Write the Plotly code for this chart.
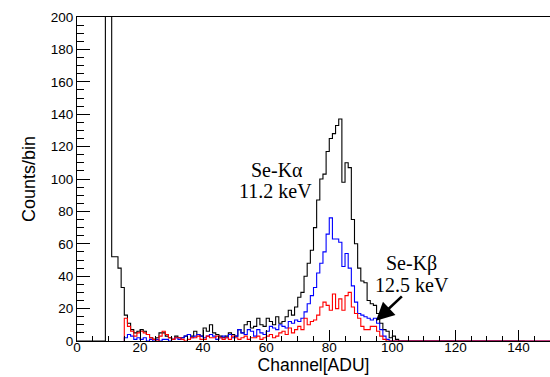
import plotly.graph_objects as go

# ---- data (counts per 1-ADU bin) ----
channels_black = list(range(0, 150))
black = [0, 0, 0, 0, 0, 0, 0, 0, 0, 480, 310,
         52, 52, 45, 33, 16, 11, 7, 5, 6, 7,
         6, 4, 2, 1, 2, 5, 5, 3, 2, 1,
         3, 2, 2, 3, 4, 3, 6, 4, 3, 8,
         6, 10, 5, 4, 3, 2, 3, 5, 4, 3,
         7, 5, 10, 12, 8, 9, 14, 10, 9, 14,
         12, 10, 15, 11, 12, 15, 19, 16, 21, 27,
         30, 40, 48, 56, 70, 87, 100, 103, 117, 125,
         128, 133, 137, 98, 110, 107, 75, 60, 45, 37,
         36, 25, 23, 22, 17, 11, 7, 6, 2, 3,
         1] + [0] * 39

channels_rb = list(range(15, 150))
blue = [2, 4, 3, 1, 2, 1,
        2, 0, 1, 0, 1, 0, 1, 1, 0, 1,
        2, 1, 2, 3, 4, 2, 3, 4, 3, 2,
        3, 4, 3, 1, 2, 3, 2, 4, 2, 3,
        7, 5, 4, 7, 6, 3, 7, 5, 4, 6,
        9, 8, 7, 10, 9, 8, 12, 11, 13, 12,
        14, 18, 23, 28, 33, 42, 48, 55, 66, 76,
        63, 63, 61, 46, 54, 45, 34, 24, 17, 16,
        15, 14, 13, 14, 11, 7, 3, 1, 0, 0] + [0] * 49
red = [14, 9, 6, 3, 5, 6,
       5, 4, 2, 1, 0, 3, 6, 4, 2, 1,
       2, 2, 1, 0, 1, 2, 2, 3, 1, 1,
       3, 2, 2, 3, 2, 1, 2, 1, 3, 2,
       1, 2, 3, 1, 2, 2, 3, 1, 2, 3,
       4, 2, 3, 5, 6, 4, 8, 5, 7, 9,
       7, 14, 10, 12, 13, 16, 21, 24, 22, 19,
       29, 20, 26, 19, 28, 30, 21, 17, 14, 9,
       7, 7, 9, 9, 6, 3, 1, 0, 0, 0] + [0] * 49

x_ticks = [0, 20, 40, 60, 80, 100, 120, 140]
y_ticks = [0, 20, 40, 60, 80, 100, 120, 140, 160, 180, 200]


def step(ch, vals):
    xs = [ch[0]] + list(ch) + [ch[-1] + 1, ch[-1] + 1]
    ys = [0] + list(vals) + [vals[-1], 0]
    return xs, ys


fig = go.Figure()
for ch, vals, col in [(channels_black, black, "black"),
                      (channels_rb, blue, "#0000ff"),
                      (channels_rb, red, "#ff0000")]:
    xs, ys = step(ch, vals)
    fig.add_trace(go.Scatter(x=xs, y=ys, mode="lines", line_shape="hv",
                             line=dict(color=col, width=1.1), showlegend=False,
                             hoverinfo="skip"))

serif = "Liberation Serif, Times New Roman, serif"
ann = [
    dict(x=63.4, y=105.3, text="Se-K\u03b1"),
    dict(x=62.8, y=92.3, text="11.2 keV"),
    dict(x=106.2, y=48.1, text="Se-K\u03b2"),
    dict(x=106.2, y=34.6, text="12.5 keV"),
]
for a in ann:
    fig.add_annotation(x=a["x"], y=a["y"], text=a["text"], showarrow=False,
                       xref="x", yref="y", xanchor="center", yanchor="middle",
                       font=dict(family=serif, size=20, color="black"))

fig.add_annotation(x=94.8, y=12.5, ax=103.5, ay=28.4, xref="x", yref="y",
                   axref="x", ayref="y", text="", showarrow=True,
                   arrowhead=2, arrowsize=1.4, arrowwidth=2.6, arrowcolor="black")

sans = "Liberation Sans, Arial, Helvetica, sans-serif"
fig.update_layout(
    width=550, height=377,
    margin=dict(l=77, r=0, t=17, b=36),
    paper_bgcolor="white", plot_bgcolor="white",
    font=dict(family=sans, color="black"),
    xaxis=dict(range=[0, 150], showgrid=False, zeroline=False,
               showline=True, linecolor="black", linewidth=1, mirror=True,
               ticks="inside", ticklen=11, tickcolor="black", tickwidth=1,
               tickvals=x_ticks, ticktext=[str(v) for v in x_ticks],
               ticklabelstandoff=-6,
               tickfont=dict(family=sans, size=13.5, color="black"),
               minor=dict(dtick=5, ticks="inside", ticklen=5,
                          tickcolor="black", tickwidth=1),
               title=dict(text="Channel[ADU]", standoff=0,
                          font=dict(family=sans, size=17.5, color="black"))),
    yaxis=dict(range=[0, 200], showgrid=False, zeroline=False,
               showline=True, linecolor="black", linewidth=1, mirror=True,
               ticks="inside", ticklen=13, tickcolor="black", tickwidth=1,
               tickvals=y_ticks, ticktext=[str(v) for v in y_ticks],
               tickfont=dict(family=sans, size=13.5, color="black"),
               minor=dict(dtick=5, ticks="inside", ticklen=7,
                          tickcolor="black", tickwidth=1),
               title=dict(text="Counts/bin", standoff=10,
                          font=dict(family=sans, size=18, color="black"))),
)

fig.write_html("out.html")
